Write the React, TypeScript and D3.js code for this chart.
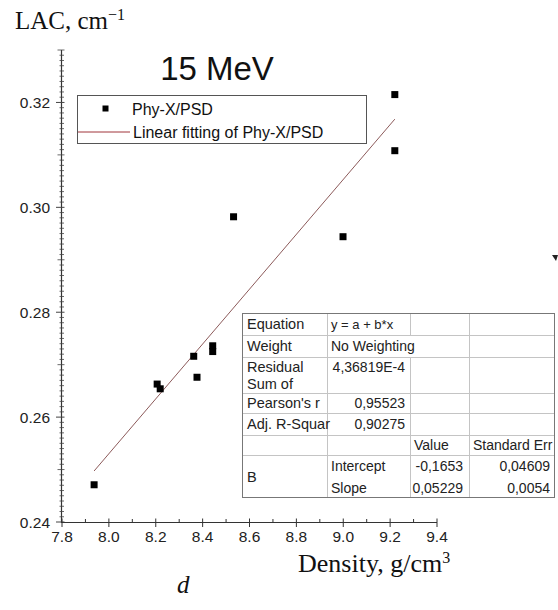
import React from "react";
import * as d3 from "d3";

// Measured samples (Phy-X/PSD)
const densities = [7.937, 8.206, 8.219, 8.362, 8.376, 8.443, 8.443, 8.532, 8.999, 9.22, 9.22];
const lacValues = [0.2471, 0.2663, 0.2654, 0.2716, 0.2676, 0.2736, 0.2725, 0.2982, 0.2944, 0.3215, 0.3108];

// Linear fit parameters
const fitIntercept = -0.1653;
const fitSlope = 0.05229;

const xTickValues = [7.8, 8.0, 8.2, 8.4, 8.6, 8.8, 9.0, 9.2, 9.4];
const yTickValues = [0.24, 0.26, 0.28, 0.3, 0.32];

const statsRows = [
  ["Equation", "y = a + b*x"],
  ["Weight", "No Weighting"],
  ["Residual\nSum of", "4,36819E-4"],
  ["Pearson's r", "0,95523"],
  ["Adj. R-Squar", "0,90275"],
];
const paramHeaders = ["Value", "Standard Err"];
const paramRows = [
  ["Intercept", "-0,1653", "0,04609"],
  ["Slope", "0,05229", "0,0054"],
];

const W = 558;
const H = 610;
const SANS = "'Liberation Sans', Arial, sans-serif";
const SERIF = "'Liberation Serif', 'Times New Roman', serif";

export default function App() {
  const x = d3.scaleLinear().domain([7.8, 9.4]).range([62, 437]);
  const y = d3.scaleLinear().domain([0.24, 0.33]).range([522, 50]);

  const xMinor = d3.range(7.8, 9.41, 0.1).map((v) => +v.toFixed(2));
  const yMinor = d3.range(0.24, 0.3305, 0.001).map((v) => +v.toFixed(3));

  const xs = d3.extent(densities) as [number, number];
  const fitLine = d3
    .line<number>()
    .x((d) => x(d))
    .y((d) => y(fitIntercept + fitSlope * d));

  // stats table geometry
  const c = [242, 327, 410, 469, 555];
  const r = [313, 335, 357, 393, 413, 435, 455, 477, 498];
  const light = "#c4c4c4";

  return (
    <svg
      width={W}
      height={H}
      style={{ position: "absolute", left: 0, top: 0, background: "#fff" }}
      fontFamily={SANS}
    >
      <rect x={0} y={0} width={W} height={H} fill="#fff" />

      {/* axis title (y) */}
      <text x={15} y={29} fontFamily={SERIF} fontSize={25} fill="#111">
        LAC, cm
        <tspan dy={-9} fontSize={16}>
          −1
        </tspan>
      </text>

      {/* chart title */}
      <text x={217} y={80} fontSize={33} textAnchor="middle" fill="#111">
        15 MeV
      </text>

      {/* y axis */}
      <line x1={61.5} x2={61.5} y1={50} y2={523} stroke="#333" strokeWidth={1.2} />
      {yMinor.map((v, i) => {
        const isMajor = Math.abs(Math.round(v * 50) - v * 50) < 1e-6;
        const isMid = !isMajor && Math.abs(Math.round(v * 100) - v * 100) < 1e-6;
        return (
          <line
            key={"ym" + i}
            x1={isMajor ? 56 : isMid ? 57.5 : 59.5}
            x2={isMajor ? 64.5 : isMid ? 64.5 : 64}
            y1={y(v)}
            y2={y(v)}
            stroke="#444"
            strokeWidth={isMajor ? 1 : 0.8}
          />
        );
      })}
      {yTickValues.map((v) => (
        <text
          key={"yl" + v}
          x={50}
          y={y(v) + 5.5}
          textAnchor="end"
          fontSize={15.5}
          fill="#222"
        >
          {v.toFixed(2)}
        </text>
      ))}

      {/* x axis */}
      <line x1={61} x2={437} y1={522.5} y2={522.5} stroke="#333" strokeWidth={1.2} />
      {xMinor.map((v, i) => {
        const isMajor = i % 2 === 0;
        return (
          <line
            key={"xm" + i}
            x1={x(v)}
            x2={x(v)}
            y1={isMajor ? 518.5 : 519}
            y2={isMajor ? 527 : 522.5}
            stroke="#333"
            strokeWidth={1}
          />
        );
      })}
      {xTickValues.map((v) => (
        <text
          key={"xl" + v}
          x={x(v)}
          y={542}
          textAnchor="middle"
          fontSize={15.5}
          fill="#222"
        >
          {v.toFixed(1)}
        </text>
      ))}

      {/* x axis title */}
      <text x={298} y={572} fontFamily={SERIF} fontSize={26} fill="#111">
        Density, g/cm
        <tspan dy={-9} fontSize={16}>
          3
        </tspan>
      </text>
      <text x={177} y={593} fontFamily={SERIF} fontStyle="italic" fontSize={25} fill="#111">
        d
      </text>

      {/* fit line */}
      <path d={fitLine(xs) || ""} fill="none" stroke="#8c5a5a" strokeWidth={1} />

      {/* data points */}
      {densities.map((d, i) => (
        <rect
          key={"p" + i}
          x={x(d) - 3.5}
          y={y(lacValues[i]) - 3.5}
          width={7}
          height={7}
          fill="#000"
        />
      ))}

      {/* legend */}
      <rect x={77.5} y={95.5} width={289} height={48} fill="#fff" stroke="#555" strokeWidth={1} />
      <rect x={102.5} y={105.5} width={6} height={6} fill="#000" />
      <text x={132} y={115} fontSize={16} fill="#111">
        Phy-X/PSD
      </text>
      <line x1={78} x2={130} y1={132} y2={132} stroke="#a0353a" strokeWidth={1} />
      <text x={133} y={138} fontSize={16} fill="#111">
        Linear fitting of Phy-X/PSD
      </text>

      {/* statistics table */}
      <rect x={c[0] + 0.5} y={r[0] + 0.5} width={c[4] - c[0] - 1} height={r[8] - r[0] - 1} fill="#fff" />
      {/* horizontal rules */}
      {[r[1], r[2], r[3], r[4], r[5], r[6]].map((yy, i) => (
        <line key={"h" + i} x1={c[0]} x2={c[4]} y1={yy + 0.5} y2={yy + 0.5} stroke={light} strokeWidth={1} />
      ))}
      {/* vertical rules */}
      <line x1={c[1] + 0.5} x2={c[1] + 0.5} y1={r[0]} y2={r[8]} stroke={light} />
      <line x1={c[2] + 0.5} x2={c[2] + 0.5} y1={r[0]} y2={r[1]} stroke={light} />
      <line x1={c[2] + 0.5} x2={c[2] + 0.5} y1={r[2]} y2={r[8]} stroke={light} />
      <line x1={c[3] + 0.5} x2={c[3] + 0.5} y1={r[0]} y2={r[8]} stroke={light} />
      <rect
        x={c[0] + 0.5}
        y={r[0] + 0.5}
        width={c[4] - c[0] - 1}
        height={r[8] - r[0] - 1}
        fill="none"
        stroke="#777"
        strokeWidth={1}
      />

      {statsRows.map((row, i) => {
        const top = r[i];
        const bottom = r[i + 1];
        const lines = row[0].split("\n");
        const multi = lines.length > 1;
        const base = multi ? top + 15 : (top + bottom) / 2 + 5;
        return (
          <g key={"s" + i}>
            {lines.map((t, j) => (
              <text key={j} x={c[0] + 5} y={base + j * 17} fontSize={14.5} fill="#222">
                {t}
              </text>
            ))}
            {i === 0 || i === 1 ? (
              <text x={c[1] + 4} y={base} fontSize={i === 0 ? 13 : 14} fill="#222">
                {row[1]}
              </text>
            ) : (
              <text x={c[2] - 5} y={base} fontSize={14} textAnchor="end" fill="#222">
                {row[1]}
              </text>
            )}
          </g>
        );
      })}

      <text x={c[2] + 4} y={(r[5] + r[6]) / 2 + 5} fontSize={14} fill="#222">
        {paramHeaders[0]}
      </text>
      <text x={c[3] + 4} y={(r[5] + r[6]) / 2 + 5} fontSize={14} fill="#222">
        {paramHeaders[1]}
      </text>
      <text x={c[0] + 5} y={(r[6] + r[8]) / 2 + 5} fontSize={14.5} fill="#222">
        B
      </text>
      {paramRows.map((row, i) => {
        const base = (r[6 + i] + r[7 + i]) / 2 + 5;
        return (
          <g key={"pr" + i}>
            <text x={c[1] + 4} y={base} fontSize={14} fill="#222">
              {row[0]}
            </text>
            <text x={c[3] - 6} y={base} fontSize={14} textAnchor="end" fill="#222">
              {row[1]}
            </text>
            <text x={c[4] - 5} y={base} fontSize={14} textAnchor="end" fill="#222">
              {row[2]}
            </text>
          </g>
        );
      })}

      {/* small marker at right edge */}
      <path d="M552,255 L558,255 L556,261 Z" fill="#222" />
    </svg>
  );
}
